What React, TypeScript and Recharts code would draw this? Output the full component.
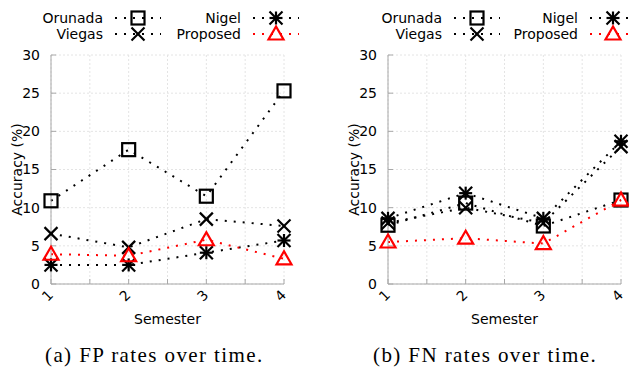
import React from 'react';
import { LineChart, Line, XAxis, YAxis, CartesianGrid } from 'recharts';

// semesters on the x axis, minor ticks every half semester
const semesters = [1, 2, 3, 4];
const xTicks = [1, 1.5, 2, 2.5, 3, 3.5, 4];
const yTicks = [0, 5, 10, 15, 20, 25, 30];

// (a) false positive rates
const fpOrunada = [10.9, 17.6, 11.5, 25.3];
const fpViegas = [6.6, 4.8, 8.5, 7.6];
const fpNigel = [2.5, 2.5, 4.1, 5.7];
const fpProposed = [3.9, 3.7, 5.8, 3.3];

// (b) false negative rates
const fnOrunada = [7.7, 10.6, 7.6, 11.0];
const fnViegas = [8.0, 10.0, 8.0, 18.0];
const fnNigel = [8.6, 11.9, 8.6, 18.7];
const fnProposed = [5.5, 6.0, 5.3, 11.0];

const captions = ['(a) FP rates over time.', '(b) FN rates over time.'];

const FONT = '"DejaVu Sans", Verdana, sans-serif';
const SERIF = '"Liberation Serif", "Times New Roman", serif';
const BORDER = '#a8a8a8';

type Shape = 'square' | 'cross' | 'star' | 'triangle';

const series: { name: string; shape: Shape; color: string }[] = [
  { name: 'Orunada', shape: 'square', color: '#000000' },
  { name: 'Viegas', shape: 'cross', color: '#000000' },
  { name: 'Nigel', shape: 'star', color: '#000000' },
  { name: 'Proposed', shape: 'triangle', color: '#ff0000' },
];

const buildRows = (o: number[], v: number[], n: number[], p: number[]) =>
  semesters.map((s, i) => ({ semester: s, Orunada: o[i], Viegas: v[i], Nigel: n[i], Proposed: p[i] }));

const fpRows = buildRows(fpOrunada, fpViegas, fpNigel, fpProposed);
const fnRows = buildRows(fnOrunada, fnViegas, fnNigel, fnProposed);

const Marker = ({ shape, cx, cy, color }: { shape: Shape; cx: number; cy: number; color: string }) => {
  const r = 6.5;
  const sw = 2.2;
  switch (shape) {
    case 'square':
      return <rect x={cx - r} y={cy - r} width={2 * r} height={2 * r} fill="none" stroke={color} strokeWidth={sw} />;
    case 'cross':
      return (
        <g stroke={color} strokeWidth={sw}>
          <line x1={cx - r} y1={cy - r} x2={cx + r} y2={cy + r} />
          <line x1={cx - r} y1={cy + r} x2={cx + r} y2={cy - r} />
        </g>
      );
    case 'star':
      return (
        <g stroke={color} strokeWidth={sw}>
          <line x1={cx - r} y1={cy - r} x2={cx + r} y2={cy + r} />
          <line x1={cx - r} y1={cy + r} x2={cx + r} y2={cy - r} />
          <line x1={cx - r} y1={cy} x2={cx + r} y2={cy} />
          <line x1={cx} y1={cy - r} x2={cx} y2={cy + r} />
        </g>
      );
    default:
      return (
        <polygon
          points={`${cx},${cy - 7.5} ${cx - 7.5},${cy + 5.5} ${cx + 7.5},${cy + 5.5}`}
          fill="none"
          stroke={color}
          strokeWidth={sw}
          strokeLinejoin="miter"
        />
      );
  }
};

const XTick = (props: any) => {
  const { x, y, payload } = props;
  if (!Number.isInteger(payload.value)) return <g />;
  const ax = x + 3;
  const ay = y + 7;
  return (
    <text x={ax} y={ay} transform={`rotate(-45, ${ax}, ${ay})`} textAnchor="end" fontSize={14} fontFamily={FONT} fill="#000">
      {payload.value}
    </text>
  );
};

const Panel = ({ rows, width, margin }: { rows: any[]; width: number; margin: any }) => (
  <LineChart width={width} height={340} data={rows} margin={margin}>
    <CartesianGrid stroke="#e4e4e4" strokeDasharray="2 2" />
    <XAxis
      dataKey="semester"
      type="number"
      domain={[1, 4]}
      ticks={xTicks}
      interval={0}
      height={50}
      tickSize={-5}
      tickMargin={10}
      stroke={BORDER}
      tick={<XTick />}
      label={{ value: 'Semester', position: 'insideBottom', offset: 10, fill: '#000', fontSize: 14, fontFamily: FONT }}
    />
    <XAxis xAxisId="top" orientation="top" type="number" domain={[1, 4]} ticks={xTicks} interval={0} height={0} tick={false} tickSize={-5} stroke={BORDER} allowDataOverflow />
    <YAxis
      type="number"
      domain={[0, 30]}
      ticks={yTicks}
      interval={0}
      width={40}
      tickSize={-5}
      tickMargin={16}
      stroke={BORDER}
      tick={{ fill: '#000', fontSize: 14, fontFamily: FONT }}
      label={{ value: 'Accuracy (%)', angle: -90, position: 'insideLeft', offset: 6, fill: '#000', fontSize: 14, fontFamily: FONT, style: { textAnchor: 'middle' } }}
    />
    <YAxis yAxisId="right" orientation="right" type="number" domain={[0, 30]} ticks={yTicks} interval={0} width={0} tick={false} tickSize={-5} stroke={BORDER} allowDataOverflow />
    {series.map((s) => (
      <Line
        key={s.name}
        type="linear"
        dataKey={s.name}
        stroke={s.color}
        strokeWidth={2}
        strokeDasharray="2 7"
        isAnimationActive={false}
        activeDot={false}
        dot={(p: any) => <Marker key={`${s.name}-${p.index}`} shape={s.shape} cx={p.cx} cy={p.cy} color={s.color} />}
      />
    ))}
  </LineChart>
);

const LegendBlock = ({ x1, x2 }: { x1: number; x2: number }) => {
  const cols = [x1, x1, x2, x2];
  const rowsY = [18, 34, 18, 34];
  const order = ['Orunada', 'Viegas', 'Nigel', 'Proposed'];
  return (
    <g>
      {order.map((name, i) => {
        const s = series.find((d) => d.name === name)!;
        const tx = cols[i];
        const ty = rowsY[i];
        return (
          <g key={name}>
            <text x={tx} y={ty} dy="0.35em" textAnchor="end" fontSize={14} fontFamily={FONT} fill="#000">
              {name}
            </text>
            <line x1={tx + 12} y1={ty} x2={tx + 58} y2={ty} stroke={s.color} strokeWidth={2} strokeDasharray="2 7" />
            <Marker shape={s.shape} cx={tx + 35} cy={ty} color={s.color} />
          </g>
        );
      })}
    </g>
  );
};

export default function App() {
  return (
    <div style={{ position: 'absolute', left: 0, top: 0, width: 629, height: 370, background: '#fff', overflow: 'hidden' }}>
      <div style={{ position: 'absolute', left: 0, top: 0 }}>
        <Panel rows={fpRows} width={315} margin={{ top: 55, right: 31, left: 11, bottom: 6 }} />
      </div>
      <div style={{ position: 'absolute', left: 315, top: 0 }}>
        <Panel rows={fnRows} width={314} margin={{ top: 55, right: 8, left: 33, bottom: 6 }} />
      </div>
      <svg width={629} height={370} style={{ position: 'absolute', left: 0, top: 0, pointerEvents: 'none' }}>
        <LegendBlock x1={103} x2={241} />
        <LegendBlock x1={442} x2={578} />
        <text x={45} y={362} fontSize={21} letterSpacing={1.4} fontFamily={SERIF} fill="#000">
          {captions[0]}
        </text>
        <text x={373} y={362} fontSize={21} letterSpacing={1.4} fontFamily={SERIF} fill="#000">
          {captions[1]}
        </text>
      </svg>
    </div>
  );
}
